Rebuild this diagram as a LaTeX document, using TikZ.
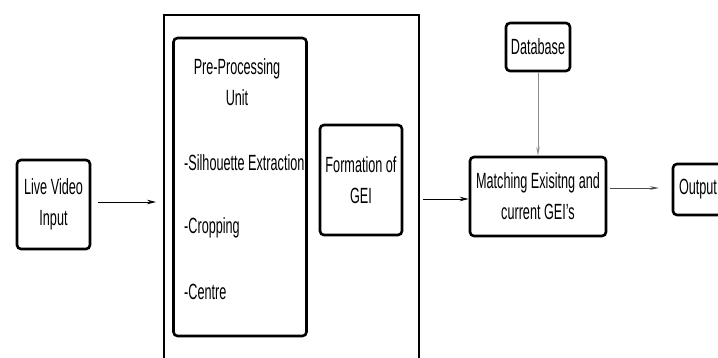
\documentclass[tikz,border=0pt]{standalone}
\usepackage{fontspec}
\setmainfont{Liberation Sans}[FakeStretch=0.575]
\usetikzlibrary{arrows.meta}
\begin{document}
\begin{tikzpicture}[x=1pt,y=-1pt,
  box/.style={draw=black, line width=2.6pt, rounded corners=4pt, align=center,
    font=\fontsize{22}{31}\selectfont, inner sep=0pt},
  txt/.style={font=\fontsize{22}{31}\selectfont, inner sep=0pt},
  arr/.style={-{Stealth[length=9pt,width=4.5pt]}, line width=0.8pt, black},
  garr/.style={-{Stealth[length=9pt,width=3.5pt]}, line width=0.8pt, black!45}]
\useasboundingbox (0,0) rectangle (718,358);
\fill[white] (0,0) rectangle (718,358);
% outer box (open at the bottom of the picture)
\node[draw=black, line width=2.4pt, minimum width=255, minimum height=365, inner sep=0pt] (outer) at (291.5,197.5) {};
% boxes
\node[box, minimum width=73, minimum height=89] (live) at (53.5,204.5) {Live Video\\Input};
\node[box, minimum width=133, minimum height=298] (pre) at (240,187) {};
\node[txt, align=center] (pretitle) at (237,82) {Pre-Processing\\Unit};
\node[txt, anchor=west] (sil) at (184,163) {-Silhouette Extraction};
\node[txt, anchor=west] (crop) at (184,228) {-Cropping};
\node[txt, anchor=west] (cent) at (184,292) {-Centre};
\node[box, minimum width=82, minimum height=110] (gei) at (361,180) {Formation of\\GEI};
\node[box, minimum width=136, minimum height=79] (match) at (538,196.5) {Matching Exisitng and\\current GEI’s};
\node[box, minimum width=64, minimum height=48] (db) at (538,47) {Database};
\node[box, minimum width=50, minimum height=51] (out) at (698,189.5) {Output};
% connectors
\coordinate (a1e) at (156,202);
\draw[arr] (98,202) -- (a1e);
\coordinate (a2s) at (423,199);
\draw[arr] (a2s) -- (match.west |- a2s);
\draw[garr] (db.south) -- (match.north);
\coordinate (a3s) at (610,188);
\coordinate (a3e) at (659,188);
\draw[garr, black!70] (a3s) -- (a3e);
\end{tikzpicture}
\end{document}
